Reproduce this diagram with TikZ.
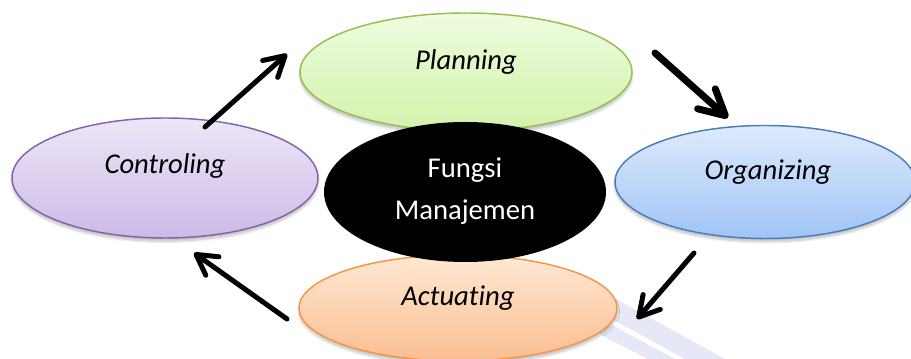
\documentclass[tikz,border=0pt]{standalone}
\usepackage{fontspec}
\setmainfont{Carlito}[Ligatures=NoCommon]
\usetikzlibrary{shapes.geometric,arrows.meta,shadows.blur}
\definecolor{plantop}{RGB}{238,252,222}
\definecolor{planbot}{RGB}{212,242,172}
\definecolor{planline}{RGB}{150,190,85}
\definecolor{ctrltop}{RGB}{238,230,248}
\definecolor{ctrlbot}{RGB}{204,186,230}
\definecolor{ctrlline}{RGB}{130,100,170}
\definecolor{orgtop}{RGB}{222,234,252}
\definecolor{orgbot}{RGB}{160,196,245}
\definecolor{orgline}{RGB}{75,125,190}
\definecolor{acttop}{RGB}{255,232,212}
\definecolor{actbot}{RGB}{250,190,145}
\definecolor{actline}{RGB}{245,150,70}
\definecolor{stripe}{RGB}{230,232,247}
\tikzset{
  oval/.style={ellipse, inner sep=0pt, line width=1.1pt,
    blur shadow={shadow xshift=0pt, shadow yshift=-2.5pt, shadow blur steps=6, shadow opacity=25}},
  lbl/.style={font=\fontsize{21.5}{30}\selectfont\itshape, text=black, inner sep=0pt},
  flow/.style={line width=3.75pt, line cap=round, -{Straight Barb[length=15pt,width=17pt,round]}},
  bigflow/.style={line width=5.25pt, line cap=round, -{Straight Barb[length=19pt,width=20pt,round]}},
}
\begin{document}
\begin{tikzpicture}[x=0.75pt,y=-0.75pt]
\useasboundingbox (0,0) rectangle (911,359);
% faint stripes
\begin{scope}
\clip (600,0) rectangle (911,359);
\fill[stripe] (600,290.4) -- (725,359) -- (685,359) -- (600,312.4) -- cycle;
\fill[stripe] (600,318.4) -- (675,359) -- (648,359) -- (600,334.4) -- cycle;
\end{scope}
% ellipses
\node[oval, minimum width=249pt, minimum height=88.5pt, draw=planline, top color=plantop, bottom color=planbot] (plan) at (466,72) {};
\node[oval, minimum width=229.5pt, minimum height=90pt, draw=ctrlline, top color=ctrltop, bottom color=ctrlbot] (ctrl) at (165,178) {};
\node[oval, minimum width=225pt, minimum height=84.75pt, draw=orgline, top color=orgtop, bottom color=orgbot] (org) at (765,182) {};
\node[oval, minimum width=238.5pt, minimum height=79.5pt, draw=actline, top color=acttop, bottom color=actbot] (act) at (458,308) {};
\node[ellipse, inner sep=0pt, minimum width=211.5pt, minimum height=105pt, fill=black] (fm) at (465,192) {};
% labels
\node[lbl] (planT) at (466,62) {Planning};
\node[lbl] (ctrlT) at (165,166) {Controling};
\node[lbl] (orgT) at (768,172) {Organizing};
\node[lbl] (actT) at (458,298) {Actuating};
\node[font=\fontsize{21.5}{32}\selectfont, text=white, align=center, inner sep=0pt] (fmT) at (465,191) {Fungsi\\Manajemen};
% arrows
\coordinate (a1s) at (205,127); \coordinate (a1e) at (287,54);
\coordinate (a2s) at (655,53);  \coordinate (a2e) at (728,118);
\coordinate (a3s) at (694,253); \coordinate (a3e) at (637,319);
\coordinate (a4s) at (287,319); \coordinate (a4e) at (194,253);
\draw[flow] (a1s) -- (a1e);
\draw[bigflow] (a2s) -- (a2e);
\draw[flow] (a3s) -- (a3e);
\draw[flow] (a4s) -- (a4e);
\end{tikzpicture}
\end{document}
